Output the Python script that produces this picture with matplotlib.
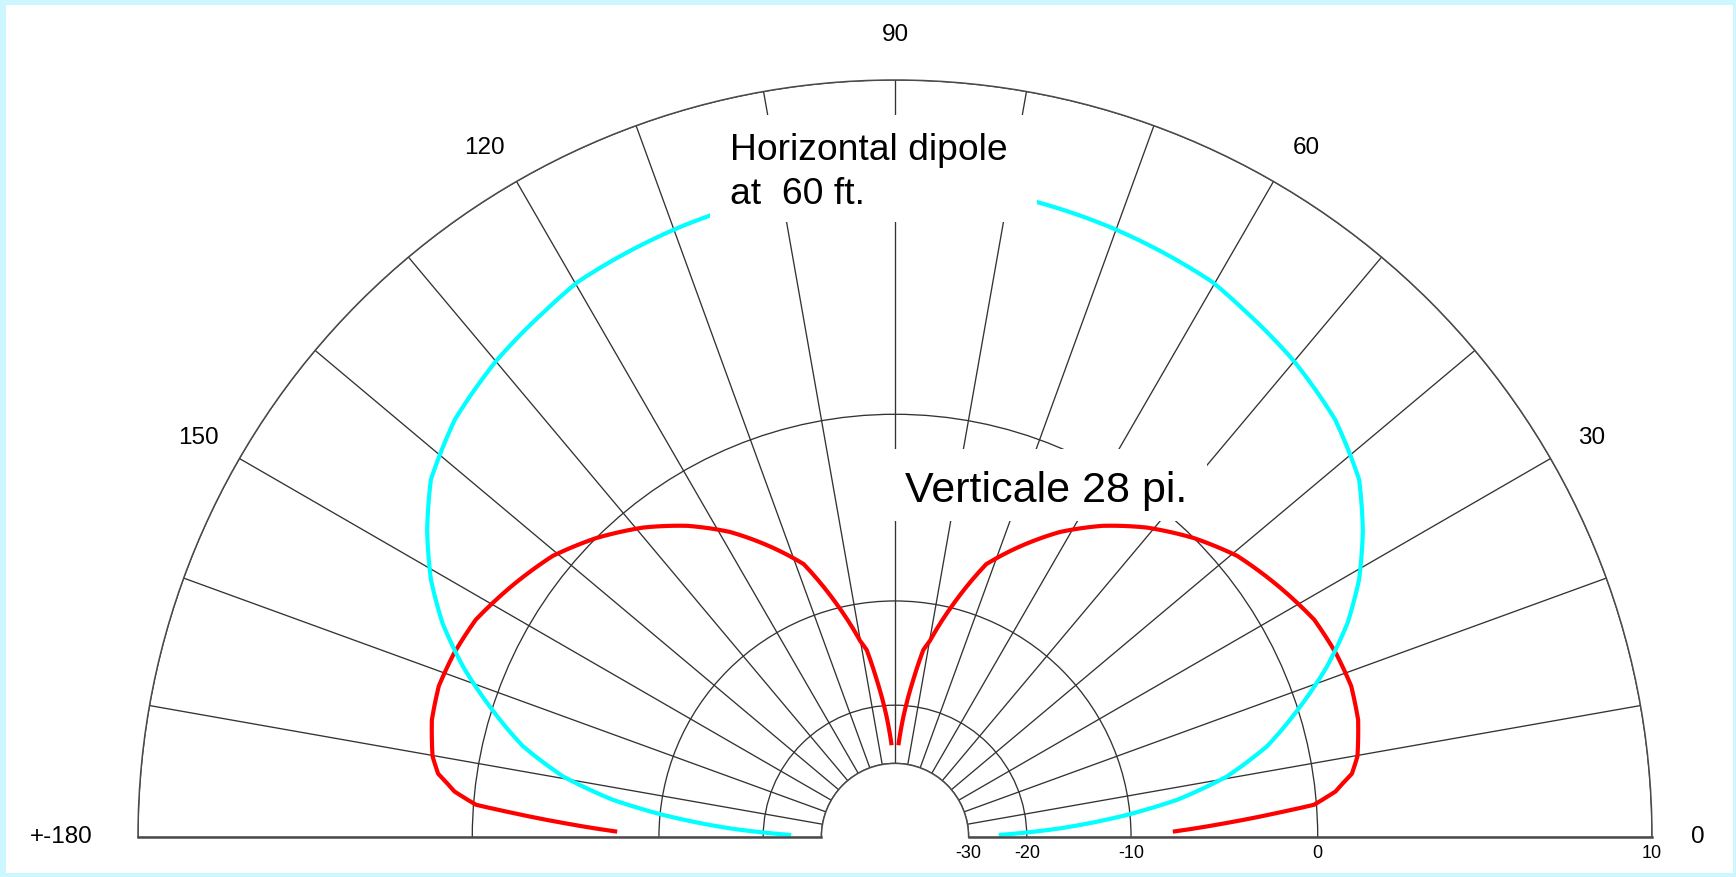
import numpy as np
import matplotlib
matplotlib.use("Agg")
import matplotlib.pyplot as plt
from matplotlib.patches import Rectangle

plt.rcParams['font.family'] = ['Liberation Sans', 'DejaVu Sans']

# elevation angle (deg) and relative gain (dB), read for 0-90 deg;
# both patterns are symmetric about 90 deg
vert_el = [1.1, 2.4, 3.6, 4.4, 5.9, 6.8, 7.9, 9.9, 14.2, 18.3, 22.6, 27.4,
           33.0, 39.4, 45.0, 50.9, 56.3, 61.6, 67.1, 71.5, 75.0, 76.2, 79.9,
           81.4, 83.4, 86.0, 87.9]
vert_db = [-7.2, -4.2, -1.7, -0.1, 0.8, 1.1, 1.5, 1.8, 2.1, 2.2, 2.1, 1.9,
           1.4, 0.8, 0.0, -1.0, -2.1, -3.4, -5.1, -6.6, -9.0, -9.9, -12.9,
           -13.8, -16.9, -21.5, -26.2]

dip_el = [1.1, 3.0, 5.4, 7.5, 10.3, 13.7, 17.8, 21.5, 25.3, 29.0, 33.2, 37.6,
          43.5, 50.0, 56.4, 60.2, 65.4, 70.7, 77.3, 84.0, 90.0]
dip_db = [-24.1, -16.1, -10.3, -6.8, -3.9, -1.7, 0.1, 1.6, 2.9, 3.9, 4.8, 5.6,
          6.2, 6.6, 6.9, 7.1, 7.2, 7.3, 7.4, 7.4, 7.4]

ring_db = [-30, -20, -10, 0, 10]
ring_labels = ['-30', '-20', '-10', '0', '10']
spoke_deg = list(range(0, 181, 10))
angle_labels = ['0', '30', '60', '90', '120', '150', '+-180']


def arrl(db):
    # ARRL log-periodic radial scale: every 2 dB is 0.89 of the radius
    return 0.89 ** ((10 - np.asarray(db, dtype=float)) / 2)


def arrl_inv(r):
    with np.errstate(divide='ignore', invalid='ignore'):
        return 10 - 2 * np.log(np.asarray(r, dtype=float)) / np.log(0.89)


W, H = 1736, 877
fig = plt.figure(figsize=(W / 100, H / 100), dpi=100, facecolor='#ccf7ff')
fig.add_artist(Rectangle((6 / W, 4 / H), (W - 9) / W, (H - 9) / H,
                         transform=fig.transFigure, facecolor='white',
                         edgecolor='none', zorder=-10))

# polar axes box is square; the half disc sits in its upper part,
# centre at (895, 837) px, outer radius 757 px
R = 757
ax = fig.add_axes([(895 - R) / W, (H - 837 - R / 2) / H, 2 * R / W, 2 * R / H],
                  projection='polar')
ax.set_thetamin(0)
ax.set_thetamax(180)
ax.set_rscale('function', functions=(arrl, arrl_inv))
ax.set_rlim(-30, 10)
ax.set_rorigin(-1000)
ax.patch.set_facecolor('white')

ax.set_xticks(np.deg2rad(spoke_deg))
ax.set_xticklabels([])
ax.set_yticks(ring_db)
ax.set_yticklabels([])
ax.tick_params(length=0)
ax.grid(True, color='#333333', lw=0.95)
for name, sp in ax.spines.items():
    sp.set_color('#4a4a4a')
    sp.set_linewidth(1.1)
ax.spines['start'].set_linewidth(1.8)
ax.spines['end'].set_linewidth(1.8)


def curve(theta_deg, db, color):
    ln, = ax.plot(np.deg2rad(theta_deg), db, color=color, lw=3,
                  solid_capstyle='butt', solid_joinstyle='round')
    # follow the polar arcs between points instead of straight chords
    ln.get_path()._interpolation_steps = 12
    return ln


# red: vertical, two lobes (null at zenith)
el = np.array(vert_el)
curve(el, vert_db, '#ff0000')
curve(180 - el, vert_db, '#ff0000')

# cyan: horizontal dipole, one continuous lobe
el = np.array(dip_el)
theta = np.concatenate([el, 180 - el[::-1][1:]])
gain = np.concatenate([dip_db, dip_db[::-1][1:]])
curve(theta, gain, '#00ffff')

label_pos = [0, 29.8, 59.2, 90, 120.8, 150.2, 180]
for deg, lab in zip(label_pos, angle_labels):
    ax.text(np.deg2rad(deg), 11.0, lab, fontsize=17.5,
            ha='right' if deg == 180 else 'center', va='center', clip_on=False)

for v, lab in zip(ring_db, ring_labels):
    ax.annotate(lab, xy=(0, v), xytext=(0, -6), textcoords='offset points',
                ha='center', va='top', fontsize=13, annotation_clip=False)

# label boxes sit over the curves
fig.add_artist(Rectangle((710 / W, 1 - 222 / H), 327 / W, 107 / H,
                         transform=fig.transFigure, facecolor='white',
                         edgecolor='none', zorder=5))
fig.add_artist(Rectangle((867 / W, 1 - 521 / H), 340 / W, 72 / H,
                         transform=fig.transFigure, facecolor='white',
                         edgecolor='none', zorder=5))
fig.text(730 / W, 1 - 160 / H, 'Horizontal dipole', fontsize=26.8,
         va='baseline', zorder=6)
fig.text(730 / W, 1 - 204 / H, 'at  60 ft.', fontsize=26.8,
         va='baseline', zorder=6)
fig.text(905 / W, 1 - 502 / H, 'Verticale 28 pi.', fontsize=31,
         va='baseline', zorder=6)

fig.savefig('out.png', dpi=100, facecolor=fig.get_facecolor())
